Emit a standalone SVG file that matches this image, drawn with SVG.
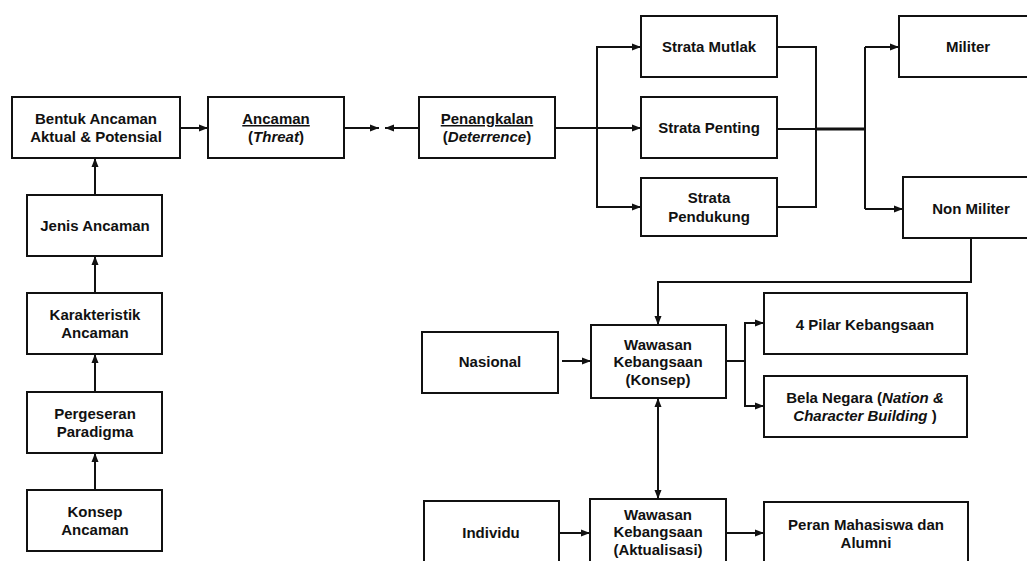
<svg xmlns="http://www.w3.org/2000/svg" width="1027" height="561" viewBox="0 0 1027 561">
<defs>
<marker id="ah" markerUnits="userSpaceOnUse" markerWidth="10" markerHeight="8" refX="9" refY="4" orient="auto">
<path d="M0,0.5 L9,4 L0,7.5 z" fill="#111"/>
</marker>
<style>
rect.b{fill:#fff;stroke:#111;stroke-width:2}
text{font-family:"Liberation Sans",Arial,sans-serif;font-weight:bold;font-size:15px;fill:#111;text-anchor:middle}
.c path,.c line{fill:none;stroke:#111;stroke-width:2}
.u{text-decoration:underline}
.i{font-style:italic}
</style>
</defs>
<rect width="1027" height="561" fill="#fff"/>
<g class="c" id="connectors">
<line x1="95" y1="490" x2="95" y2="453" marker-end="url(#ah)"/>
<line x1="95" y1="392" x2="95" y2="354" marker-end="url(#ah)"/>
<line x1="95" y1="293" x2="95" y2="256" marker-end="url(#ah)"/>
<line x1="95" y1="195" x2="95" y2="158" marker-end="url(#ah)"/>
<line x1="180" y1="128" x2="208" y2="128" marker-end="url(#ah)"/>
<line x1="344" y1="128" x2="379" y2="128" marker-end="url(#ah)"/>
<line x1="419" y1="128" x2="385" y2="128" marker-end="url(#ah)"/>
<path d="M555,128 H597"/>
<path d="M641,47 H597 V207 H641"/>
<line x1="597" y1="47" x2="641" y2="47" marker-end="url(#ah)"/>
<line x1="597" y1="128" x2="641" y2="128" marker-end="url(#ah)"/>
<line x1="597" y1="207" x2="641" y2="207" marker-end="url(#ah)"/>
<path d="M777,47 H816 V207 H777"/>
<path d="M777,129 H816"/>
<path d="M816,129 H865" style="stroke-width:3"/>
<path d="M865,47 V209"/>
<line x1="865" y1="47" x2="899" y2="47" marker-end="url(#ah)"/>
<line x1="865" y1="209" x2="903" y2="209" marker-end="url(#ah)"/>
<path d="M971,238 V282 H658 V325" marker-end="url(#ah)"/>
<line x1="562" y1="361" x2="591" y2="361" marker-end="url(#ah)"/>
<path d="M726,361 H745"/>
<path d="M764,323 H745 V406 H764"/>
<line x1="745" y1="323" x2="764" y2="323" marker-end="url(#ah)"/>
<line x1="745" y1="406" x2="764" y2="406" marker-end="url(#ah)"/>
<line x1="658" y1="460" x2="658" y2="398" marker-end="url(#ah)"/>
<line x1="658" y1="440" x2="658" y2="499" marker-end="url(#ah)"/>
<line x1="559" y1="533" x2="590" y2="533" marker-end="url(#ah)"/>
<line x1="726" y1="533" x2="764" y2="533" marker-end="url(#ah)"/>
</g>
<g id="bentuk"><rect class="b" x="12" y="97" width="168" height="61"/><text x="96" y="124">Bentuk Ancaman</text><text x="96" y="142">Aktual &amp; Potensial</text></g>
<g id="ancaman"><rect class="b" x="208" y="97" width="136" height="61"/><text x="276" y="124" class="u">Ancaman</text><text x="276" y="142">(<tspan class="i">Threat</tspan>)</text></g>
<g id="penangkalan"><rect class="b" x="419" y="97" width="136" height="61"/><text x="487" y="124" class="u">Penangkalan</text><text x="487" y="142">(<tspan class="i">Deterrence</tspan>)</text></g>
<g id="jenis"><rect class="b" x="27" y="195" width="135" height="61"/><text x="95" y="231">Jenis Ancaman</text></g>
<g id="karakteristik"><rect class="b" x="27" y="293" width="135" height="61"/><text x="95" y="320">Karakteristik</text><text x="95" y="338">Ancaman</text></g>
<g id="pergeseran"><rect class="b" x="27" y="392" width="135" height="61"/><text x="95" y="419">Pergeseran</text><text x="95" y="437">Paradigma</text></g>
<g id="konsep"><rect class="b" x="27" y="490" width="135" height="61"/><text x="95" y="517">Konsep</text><text x="95" y="535">Ancaman</text></g>
<g id="mutlak"><rect class="b" x="641" y="16" width="136" height="61"/><text x="709" y="52">Strata Mutlak</text></g>
<g id="penting"><rect class="b" x="641" y="97" width="136" height="61"/><text x="709" y="133">Strata Penting</text></g>
<g id="pendukung"><rect class="b" x="641" y="178" width="136" height="58"/><text x="709" y="203">Strata</text><text x="709" y="222">Pendukung</text></g>
<g id="militer"><rect class="b" x="899" y="16" width="140" height="61"/><text x="968" y="52">Militer</text></g>
<g id="nonmiliter"><rect class="b" x="903" y="177" width="140" height="61"/><text x="971" y="214">Non Militer</text></g>
<g id="nasional"><rect class="b" x="422" y="332" width="136" height="61"/><text x="490" y="367">Nasional</text></g>
<g id="wk-konsep"><rect class="b" x="591" y="325" width="135" height="73"/><text x="658" y="350">Wawasan</text><text x="658" y="367">Kebangsaan</text><text x="658" y="385">(Konsep)</text></g>
<g id="pilar"><rect class="b" x="764" y="293" width="203" height="61"/><text x="865" y="330">4 Pilar Kebangsaan</text></g>
<g id="bela"><rect class="b" x="764" y="376" width="203" height="61"/><text x="865" y="403">Bela Negara (<tspan class="i">Nation &amp;</tspan></text><text x="865" y="421"><tspan class="i">Character Building</tspan> )</text></g>
<g id="individu"><rect class="b" x="424" y="501" width="135" height="70"/><text x="491" y="538">Individu</text></g>
<g id="wk-aktualisasi"><rect class="b" x="590" y="499" width="136" height="70"/><text x="658" y="520">Wawasan</text><text x="658" y="537">Kebangsaan</text><text x="658" y="555">(Aktualisasi)</text></g>
<g id="peran"><rect class="b" x="764" y="502" width="204" height="70"/><text x="866" y="530">Peran Mahasiswa dan</text><text x="866" y="548">Alumni</text></g>
</svg>
